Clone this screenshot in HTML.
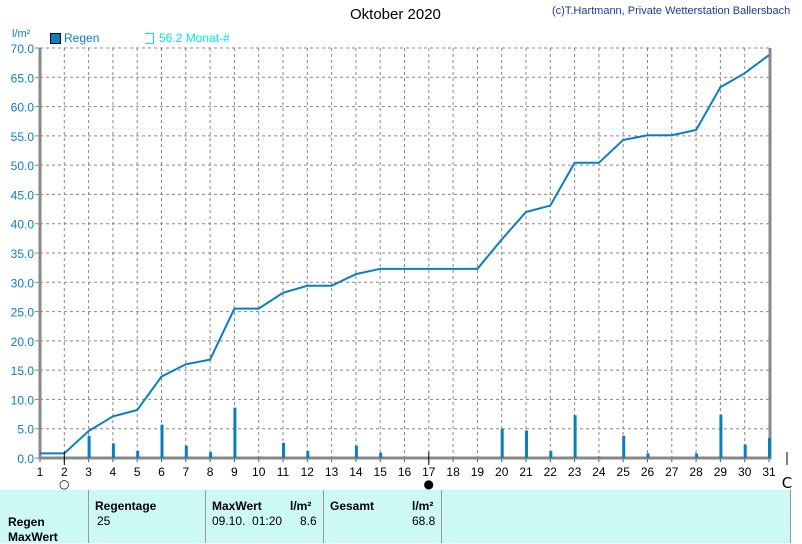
<!DOCTYPE html>
<html><head><meta charset="utf-8"><style>
body{margin:0;width:802px;height:543px;background:#fff;font-family:"Liberation Sans",sans-serif;overflow:hidden;position:relative}
.t{position:absolute;font-size:12px;color:#000}
.b{font-weight:bold}
</style></head><body>
<div class="t" style="left:350px;top:6px;font-size:15px">Oktober 2020</div>
<div class="t" style="left:552px;top:5px;font-size:11px;color:#1a3a9a">(c)T.Hartmann, Private Wetterstation Ballersbach</div>
<div class="t" style="left:12px;top:28px;font-size:11px;color:#0a7fc0">l/m²</div>
<div style="position:absolute;left:50px;top:33px;width:9px;height:9px;background:#0a7fc0;border:1px solid #000"></div>
<div class="t" style="left:64px;top:31px;color:#0a7fc0">Regen</div>
<div style="position:absolute;left:145px;top:33px;width:8px;height:9px;border:1px solid #00e5e5;border-left:none"></div>
<div class="t" style="left:159px;top:31px;color:#00e5e5">56.2 Monat-#</div>
<svg id="c" width="802" height="490" style="position:absolute;left:0;top:0"></svg>
<div style="position:absolute;left:0;top:490px;width:790px;height:53px;background:#ccf9f5;border-right:1px solid #999"></div>
<div style="position:absolute;left:88px;top:490px;width:1px;height:53px;background:#999"></div>
<div style="position:absolute;left:205px;top:490px;width:1px;height:53px;background:#999"></div>
<div style="position:absolute;left:323px;top:490px;width:1px;height:53px;background:#999"></div>
<div style="position:absolute;left:441px;top:490px;width:1px;height:53px;background:#999"></div>
<div class="t b" style="left:8px;top:515px">Regen</div>
<div class="t b" style="left:8px;top:530px">MaxWert</div>
<div class="t b" style="left:95px;top:499px">Regentage</div>
<div class="t" style="left:97px;top:514px">25</div>
<div class="t b" style="left:212px;top:499px">MaxWert</div>
<div class="t b" style="left:290px;top:499px">l/m²</div>
<div class="t" style="left:212px;top:514px">09.10.&nbsp; 01:20</div>
<div class="t" style="left:300px;top:514px">8.6</div>
<div class="t b" style="left:330px;top:499px">Gesamt</div>
<div class="t b" style="left:412px;top:499px">l/m²</div>
<div class="t" style="left:412px;top:514px">68.8</div>
<script>
const days=[1,2,3,4,5,6,7,8,9,10,11,12,13,14,15,16,17,18,19,20,21,22,23,24,25,26,27,28,29,30,31];
const cumulative=[0.8,0.8,4.6,7.1,8.2,13.9,16.0,16.8,25.5,25.5,28.2,29.4,29.4,31.4,32.3,32.3,32.3,32.3,32.3,37.3,42.0,43.1,50.4,50.4,54.3,55.1,55.1,56.0,63.3,65.7,68.8];
const daily=[0,0,3.8,2.5,1.2,5.7,2.1,1.0,8.6,0.1,2.6,1.2,0,2.1,0.9,0,0,0,0,5.0,4.7,1.2,7.3,0.2,3.8,0.8,0,0.8,7.4,2.3,3.4];
const yTicks=[0,5,10,15,20,25,30,35,40,45,50,55,60,65,70];
const monthAvg=56.2;
const x=d=>40+(d-1)*24.3, y=v=>458-v*410/70;
const s=document.getElementById('c'),N='http://www.w3.org/2000/svg';
function mk(t,a){const e=document.createElementNS(N,t);for(const k in a)e.setAttribute(k,a[k]);s.appendChild(e);return e;}
yTicks.forEach(v=>{
 if(v>0){const l=mk('line',{x1:40,x2:770,y1:y(v),y2:y(v),stroke:'#888','stroke-dasharray':'3,3'});
 
 }
 const tk=mk('line',{x1:35,x2:40,y1:y(v),y2:y(v),stroke:'#888'});
 
 
 const t=mk('text',{x:34,y:y(v)+5,'text-anchor':'end','font-size':12,fill:'#0a7fc0','font-family':'Liberation Sans'});
 t.textContent=v.toFixed(1);
 
 
});
days.forEach(d=>{
 if(d>1&&d<31){const l=mk('line',{x1:x(d),x2:x(d),y1:48,y2:458,stroke:'#888','stroke-dasharray':'3,3'});
 
 }
 const tk=mk('line',{x1:x(d),x2:x(d),y1:458,y2:462,stroke:'#555'});
 
 
 const t=mk('text',{x:x(d),y:476,'text-anchor':'middle','font-size':12,fill:'#000','font-family':'Liberation Sans'});
 t.textContent=d;
 
 
});
const avg=mk('line',{x1:40,x2:770,y1:y(monthAvg),y2:y(monthAvg),stroke:'#bfe','stroke-dasharray':'2,2'});


const ax=mk('path',{d:'M40 48V458H770V48',fill:'none',stroke:'#888','stroke-width':3});


daily.forEach((v,i)=>{if(v<=0)return;
 const r=mk('rect',{x:x(days[i])-1,y:y(v),width:3,height:458-y(v),fill:'#0a7fc0'});
 
 });
const p=mk('polyline',{points:days.map((d,i)=>x(d)+','+y(cumulative[i])).join(' '),fill:'none',stroke:'#0a7fc0','stroke-width':2});


[[2,'○'],[17,'●'],[31,'C']].forEach(([d,c])=>{
 const cx=x(d)+(d==31?18:0);
 const t=mk('text',{x:cx,y:488,'text-anchor':'middle','font-size':d==31?15:12,fill:'#000','font-family':'DejaVu Sans'});
 t.textContent=c;
 
 
 const l=mk('line',{x1:cx,x2:cx,y1:452,y2:465,stroke:'#000'});
 
 
});
</script>
</body></html>
